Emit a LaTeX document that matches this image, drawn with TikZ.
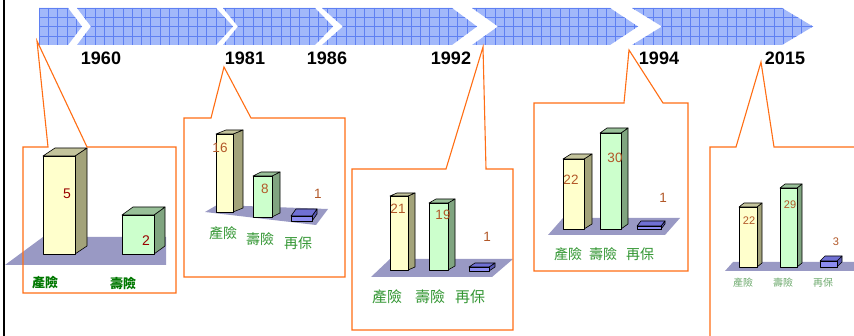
\documentclass[tikz,border=0pt]{standalone}
\usepackage{fontspec}
\setmainfont{Liberation Sans}
\newfontfamily\cjk{Noto Sans CJK TC}
\definecolor{bandfill}{RGB}{162,184,250}
\definecolor{bandgrid}{RGB}{95,128,242}
\definecolor{callor}{RGB}{255,110,20}
\definecolor{floorcol}{RGB}{153,153,196}
\definecolor{yfront}{RGB}{255,255,204}
\definecolor{yside}{RGB}{163,163,122}
\definecolor{ytop}{RGB}{196,196,156}
\definecolor{gfront}{RGB}{204,255,204}
\definecolor{gside}{RGB}{128,165,128}
\definecolor{gtop}{RGB}{152,192,152}
\definecolor{bfront}{RGB}{140,140,240}
\definecolor{bside}{RGB}{90,90,180}
\definecolor{btop}{RGB}{112,112,212}
\definecolor{valred}{RGB}{153,0,0}
\definecolor{valbrown}{RGB}{178,88,40}
\definecolor{catdark}{RGB}{0,120,0}
\definecolor{catgreen}{RGB}{50,150,50}
\definecolor{catlight}{RGB}{110,170,110}
\newcommand\drawbar[9]{%
  \filldraw[barline, fill=#8] (#2,#4) -- ({#2+#5},{#4-#6}) -- ({#2+#5},{#3-#6}) -- (#2,#3) -- cycle;
  \filldraw[barline, fill=#9] (#1,#3) -- (#2,#3) -- ({#2+#5},{#3-#6}) -- ({#1+#5},{#3-#6}) -- cycle;
  \filldraw[barline, fill=#7] (#1,#3) rectangle (#2,#4);
}
\begin{document}
\begin{tikzpicture}[x=1pt,y=-1pt,
  callout/.style={draw=callor, line width=1.1pt, line join=miter},
  year/.style={font=\bfseries\fontsize{18}{18}\selectfont, text=black, inner sep=0},
  barline/.style={draw=black, line width=0.6pt, line join=round},
  floor/.style={fill=floorcol},
  gridline/.style={draw=bandgrid, line width=0.4pt},
  valA/.style={font=\fontsize{14}{14}\selectfont, text=valred, inner sep=0},
  valB/.style={font=\fontsize{13.5}{14}\selectfont, text=valbrown, inner sep=0},
  valC/.style={font=\fontsize{11}{11}\selectfont, text=valbrown, inner sep=0},
  catA/.style={font=\cjk\bfseries\fontsize{13}{13}\selectfont, text=catdark, inner sep=0},
  catB/.style={font=\cjk\fontsize{14}{14}\selectfont, text=catgreen, inner sep=0},
  catC/.style={font=\cjk\fontsize{15}{15}\selectfont, text=catgreen, inner sep=0},
  catD/.style={font=\cjk\fontsize{10}{10}\selectfont, text=catlight, inner sep=0}]
\useasboundingbox[fill=white] (0,0) rectangle (854,336);

% timeline band
\begin{scope}
\clip (39,8) -- (68,8) -- (82,26.5) -- (68,45) -- (39,45) -- cycle
      (77,8) -- (216,8) -- (233,26.5) -- (216,45) -- (77,45) -- (91,26.5) -- cycle
      (223,8) -- (315,8) -- (333,26.5) -- (315,45) -- (223,45) -- (238,26.5) -- cycle
      (322,8) -- (452,8) -- (477,26.5) -- (452,45) -- (322,45) -- (343,26.5) -- cycle
      (472,8) -- (610,8) -- (638,26.5) -- (610,45) -- (472,45) -- (498,26.5) -- cycle
      (632,8) -- (782,8) -- (813,26.5) -- (782,45) -- (632,45) -- (662,26.5) -- cycle;
\fill[bandfill] (30,0) rectangle (820,50);
\foreach \gx in {0,...,85} \draw[gridline] ({39+9.3*\gx},8) -- ({39+9.3*\gx},45);
\foreach \gy in {0,...,4} \draw[gridline] (30,{8+9.25*\gy}) -- (820,{8+9.25*\gy});
\end{scope}

% left rule
\draw[line width=2pt] (4,-2) -- (4,340);

% years
\node[year] (y1960) at (101,58) {1960};
\node[year] (y1981) at (245,58) {1981};
\node[year] (y1986) at (327,58) {1986};
\node[year] (y1992) at (451,58) {1992};
\node[year] (y1994) at (659,58) {1994};
\node[year] (y2015) at (785,58) {2015};

% chart 1
\fill[floor] (5,265) -- (43,237) -- (166,237) -- (166,265) -- cycle;
\drawbar{43}{75}{156}{254}{12}{8}{yfront}{yside}{ytop}
\drawbar{122}{154}{215}{254}{11}{8}{gfront}{gside}{gtop}
\node[valA] (v11) at (67,194) {5};
\node[valA] (v12) at (146,241) {2};
\node[catA] (c11) at (45,283) {產險};
\node[catA] (c12) at (123,283) {壽險};

% chart 2
\fill[floor] (205,212) -- (217,205) -- (328,209) -- (316,225) -- cycle;
\drawbar{216}{233}{134}{212}{10}{4}{yfront}{yside}{ytop}
\drawbar{253}{272}{176}{217}{8}{4}{gfront}{gside}{gtop}
\drawbar{291}{312}{216}{221}{5}{7}{bfront}{bside}{btop}
\node[valB] (v21) at (220,148) {16};
\node[valB] (v22) at (265,189) {8};
\node[valB] (v23) at (318,194) {1};
\node[catB] (c21) at (223,233) {產險};
\node[catB] (c22) at (260,239) {壽險};
\node[catB] (c23) at (298,243) {再保};

% chart 3
\fill[floor] (371,277) -- (390,259) -- (513,259) -- (492,277) -- cycle;
\drawbar{390}{408}{196}{270}{7}{3}{yfront}{yside}{ytop}
\drawbar{429}{448}{203}{270}{7}{4}{gfront}{gside}{gtop}
\drawbar{469}{489}{267}{271}{6}{4}{bfront}{bside}{btop}
\node[valB] (v31) at (398,209) {21};
\node[valB] (v32) at (443,215) {19};
\node[valB] (v33) at (487,237) {1};
\node[catC] (c31) at (387,297) {產險};
\node[catC] (c32) at (430,297) {壽險};
\node[catC] (c33) at (470,297) {再保};

% chart 4
\fill[floor] (548,235) -- (563,218) -- (680,218) -- (665,235) -- cycle;
\drawbar{563}{584}{159}{229}{8}{5}{yfront}{yside}{ytop}
\drawbar{600}{621}{133}{229}{7}{5}{gfront}{gside}{gtop}
\drawbar{637}{661}{226}{229}{4}{5}{bfront}{bside}{btop}
\node[valB] (v41) at (571,180) {22};
\node[valB] (v42) at (615,158) {30};
\node[valB] (v43) at (663,198) {1};
\node[catB] (c41) at (568,254) {產險};
\node[catB] (c42) at (603,254) {壽險};
\node[catB] (c43) at (640,254) {再保};

% chart 5
\fill[floor] (725,271) -- (733,262) -- (858,262) -- (856,271) -- cycle;
\drawbar{739}{757}{207}{267}{5}{4}{yfront}{yside}{ytop}
\drawbar{780}{797}{188}{267}{5}{4}{gfront}{gside}{gtop}
\drawbar{820}{837}{261}{267}{5}{5}{bfront}{bside}{btop}
\node[valC] (v51) at (749,221) {22};
\node[valC] (v52) at (790,205) {29};
\node[valC] (v53) at (836,242) {3};
\node[catD] (c51) at (743,283) {產險};
\node[catD] (c52) at (783,283) {壽險};
\node[catD] (c53) at (823,283) {再保};

% callouts
\draw[callout] (23,147) -- (48,147) -- (37,41) -- (87,147) -- (176,147) -- (176,293) -- (23,293) -- cycle;
\draw[callout] (184,118) -- (211,118) -- (224,67) -- (251,118) -- (345,118) -- (345,277) -- (184,277) -- cycle;
\draw[callout] (352,169) -- (446,169) -- (483,47) -- (486,169) -- (513,169) -- (513,330) -- (352,330) -- cycle;
\draw[callout] (534,103) -- (624,103) -- (629,50) -- (663,103) -- (688,103) -- (688,271) -- (534,271) -- cycle;
\draw[callout] (710,345) -- (710,147) -- (736,147) -- (761,62) -- (774,147) -- (865,147);
\end{tikzpicture}
\end{document}
